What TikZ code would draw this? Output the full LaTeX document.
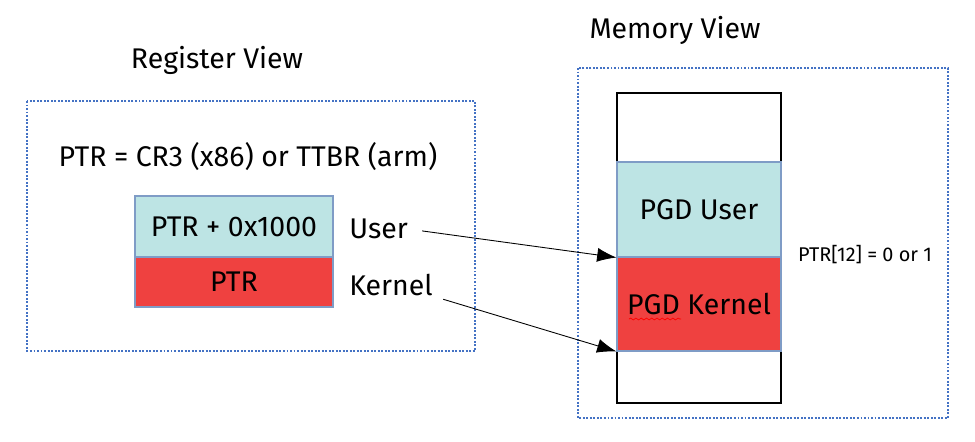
\documentclass[tikz,border=0pt]{standalone}
\usepackage{fontspec}
\setmainfont{Fira Sans}
\usetikzlibrary{arrows.meta,decorations.pathmorphing}
\definecolor{usercyan}{HTML}{BDE4E4}
\definecolor{kernred}{HTML}{EF4140}
\definecolor{dotblue}{HTML}{4472C4}
\definecolor{celledge}{HTML}{7F9CC6}

\begin{document}
\begin{tikzpicture}[x=0.02cm, y=-0.02cm, >={Latex[length=11pt,width=8pt]},
  txt/.style={font=\fontsize{16.2}{19}\selectfont, inner sep=0pt},
  cell/.style={draw=celledge, line width=0.6pt, txt},
  viewbox/.style={draw=dotblue, line width=0.7pt, dash pattern=on 1.1pt off 0.9pt}]
  \useasboundingbox (0,0) rectangle (975,441);
  % register side
  \node[txt] (regtitle) at (217,60) {Register View};
  \draw[viewbox] (27,101) rectangle (475,351);
  \node[txt] (ptrdef) at (248,157) {PTR = CR3 (x86) or TTBR (arm)};
  \node[cell, fill=usercyan, minimum width=3.96cm, minimum height=1.22cm] (regoff) at (234,226.5) {PTR + 0x1000};
  \node[cell, fill=kernred, minimum width=3.96cm, minimum height=1.0cm] (regbase) at (234,282) {PTR};
  \node[txt, anchor=west] (user) at (349,229) {User};
  \node[txt, anchor=west] (kernel) at (349,285) {Kernel};
  % memory side
  \node[txt] (memtitle) at (675,30) {Memory View};
  \draw[viewbox] (578,68) rectangle (948,418);
  \node[draw, line width=0.6pt, minimum width=3.28cm, minimum height=1.38cm] (memtop) at (699,127.5) {};
  \node[draw, line width=0.6pt, minimum width=3.28cm, minimum height=1.04cm] (membot) at (699,377) {};
  \node[cell, fill=usercyan, minimum width=3.28cm, minimum height=1.9cm] (pgduser) at (699,209.5) {PGD User};
  \node[cell, fill=kernred, minimum width=3.28cm, minimum height=1.88cm] (pgdkernel) at (699,304) {PGD Kernel};
  \draw[red, line width=0.4pt, decorate, decoration={snake, amplitude=0.5pt, segment length=3pt}] (629,319) -- (681,319);
  \node[inner sep=0pt, font=\fontsize{11.3}{13}\selectfont] (bitsel) at (865,255) {PTR[12] = 0 or 1};
  % arrows
  \draw[->, line width=0.5pt, shorten <=8pt] (user.east) -- (pgduser.south west);
  \draw[->, line width=0.5pt, shorten <=6pt] (kernel.south east) -- (pgdkernel.south west);
\end{tikzpicture}
\end{document}
